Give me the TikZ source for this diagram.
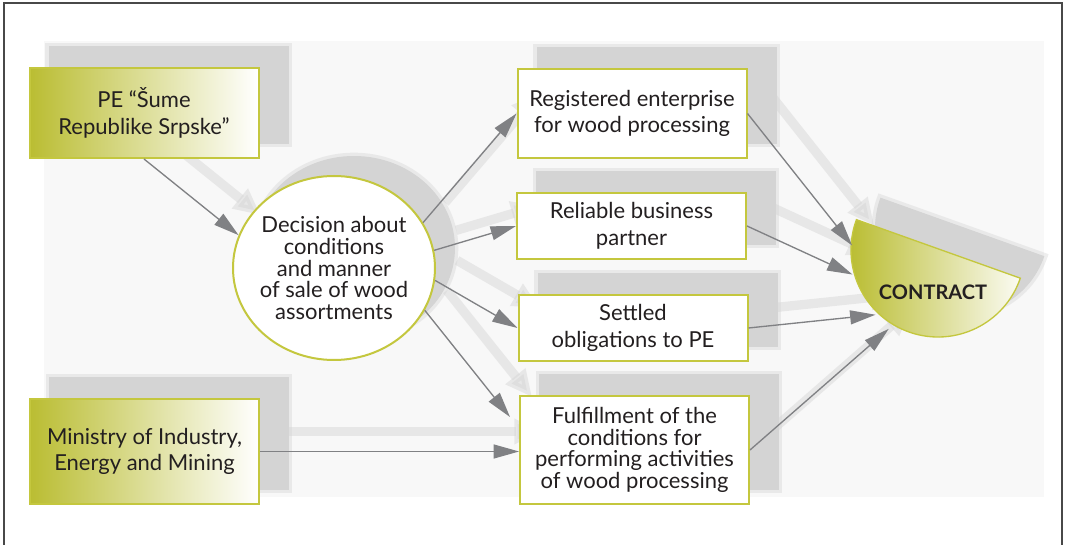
\documentclass[tikz,border=0pt]{standalone}
\usepackage{fontspec}
\setmainfont{Lato}
\usetikzlibrary{arrows.meta,shapes.geometric,calc,backgrounds}

\definecolor{leafgreen}{RGB}{186,189,50}
\definecolor{leafedge}{RGB}{196,199,62}
\definecolor{shadowgray}{RGB}{212,212,212}
\definecolor{panelgray}{RGB}{248,248,248}
\definecolor{linkgray}{RGB}{128,129,132}
\definecolor{inkgray}{RGB}{35,31,32}
\definecolor{framegray}{RGB}{72,72,72}

\tikzset{
  boxtext/.style={inner sep=0pt, align=center, text=inkgray, font=\fontsize{16.5}{20}\selectfont},
  tighttext/.style={font=\fontsize{16.5}{16.3}\selectfont},
  srcbox/.style={boxtext, draw=leafedge, line width=1.5, left color=leafgreen, right color=white, minimum width=171.75pt},
  condbox/.style={boxtext, draw=leafedge, line width=1.5, fill=white, minimum width=171.75pt},
  decision/.style={boxtext, tighttext, ellipse, inner sep=-14pt, draw=leafedge, line width=1.5, fill=white, minimum width=151.5pt, minimum height=138pt},
  link/.style={draw=linkgray, line width=1, -{Triangle[length=19pt,width=10.5pt]}},
  shadowblock/.style={fill=shadowgray, draw=shadowgray, line width=5pt, draw opacity=.4},
  shadowband/.style={draw=shadowgray, line width=7pt, opacity=.45, -{Triangle[length=20pt,width=18pt]}}
}

\begin{document}
\begin{tikzpicture}[x=0.75pt,y=0.75pt,yscale=-1,xscale=1]
\useasboundingbox (0,0) rectangle (1065,545);

% Frame
\draw [framegray, line width=1.2] (4,545) -- (4,3) -- (1062,3) -- (1062,545);

% Source boxes
\node [srcbox, minimum height=67.5pt] (pe) at (144,113) {PE “Šume\\Republike Srpske”};
\node [srcbox, minimum height=78.75pt] (min) at (144.5,451.5) {Ministry of Industry,\\Energy and Mining};

% Decision
\node [decision] (dec) at (334,268) {Decision about\\conditions\\and manner\\of sale of wood\\assortments};

% Conditions
\node [condbox, minimum height=66.75pt] (reg) at (632,113.5) {Registered enterprise\\for wood processing};
\node [condbox, minimum height=49.5pt] (rel) at (631.5,226) {Reliable business\\partner};
\node [condbox, minimum height=49.5pt] (obl) at (633,328) {Settled\\obligations to PE};
\node [condbox, tighttext, minimum height=81pt] (ful) at (634.5,450) {Fulfillment of the\\conditions for\\performing activities\\of wood processing};

% Contract (half disc)
\coordinate (cc) at (938,250);
\path [draw=leafedge, line width=1, left color=leafgreen, right color=white!94!leafgreen] ($(cc)+(18.9:87)$) arc [start angle=18.9, end angle=200.4, radius=87] -- cycle;
\node [text=inkgray, font=\fontsize{15}{18}\bfseries] (con) at (933,292) {CONTRACT};
\coordinate (k1) at ($(cc)+(183:86)$);
\coordinate (k2) at ($(cc)+(164:89)$);
\coordinate (k3) at ($(cc)+(134:90)$);
\coordinate (k4) at ($(cc)+(122:93)$);

% Connectors
\draw [link] (pe.south) -- (dec.161);
\draw [link] (dec.27) -- (reg.west);
\draw [link] (dec.10) -- (rel.west);
\draw [link] (dec.-7) -- (obl.west);
\draw [link] (dec.-25) -- ($(ful.north west)+(-9,22)$);
\draw [link] (min.east) -- (min.east -| ful.west);
\draw [link] (reg.east) -- (k1);
\draw [link] (rel.east) -- (k2);
\draw [link] (obl.east) -- (k3);
\draw [link] (ful.east) -- (k4);

% Panel and shadows
\begin{scope}[on background layer]
\fill [panelgray] (44,41) rectangle (1044,497);
\foreach \b in {pe,min,reg,rel,obl,ful}
  \fill [shadowblock] ($(\b.south west)+(20,-15)$) rectangle ($(\b.north east)+(29,-21)$);
\fill [shadowblock] ($(dec.center)+(20,-20)$) ellipse [x radius=101, y radius=92];
\coordinate (cs) at ($(cc)+(24,-22)$);
\fill [shadowblock] ($(cs)+(18.9:87)$) arc [start angle=18.9, end angle=200.4, radius=87] -- cycle;
\draw [shadowband] ($(pe.south)+(22,-20)$) -- ($(dec.161)+(22,-20)$);
\draw [shadowband] ($(dec.27)+(22,-20)$) -- ($(reg.west)+(22,-20)$);
\draw [shadowband] ($(dec.10)+(22,-20)$) -- ($(rel.west)+(22,-20)$);
\draw [shadowband] ($(dec.-7)+(22,-20)$) -- ($(obl.west)+(22,-20)$);
\draw [shadowband] ($(dec.-25)+(22,-20)$) -- ($(ful.north west)+(13,2)$);
\draw [shadowband] ($(min.east)+(22,-20)$) -- ($(min.east -| ful.west)+(22,-20)$);
\draw [shadowband] ($(reg.east)+(22,-20)$) -- ($(k1)+(22,-20)$);
\draw [shadowband] ($(rel.east)+(22,-20)$) -- ($(k2)+(22,-20)$);
\draw [shadowband] ($(obl.east)+(22,-20)$) -- ($(k3)+(22,-20)$);
\draw [shadowband] ($(ful.east)+(22,-20)$) -- ($(k4)+(22,-20)$);
\end{scope}

\end{tikzpicture}
\end{document}
